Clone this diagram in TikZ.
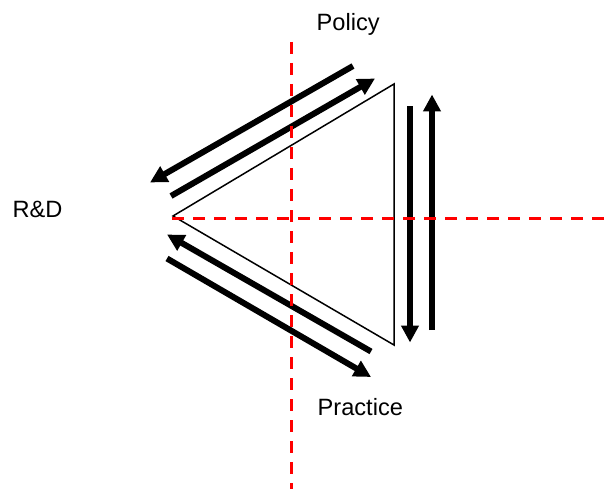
\documentclass[tikz,border=0pt]{standalone}
\usepackage{fontspec}
\setmainfont{Liberation Sans}
\usetikzlibrary{arrows.meta}

\tikzset{
  label text/.style={inner sep=0pt, anchor=base west, font=\fontsize{23.6}{28}\selectfont},
  flow/.style={line width=6pt, -{Triangle[width=17pt,length=17pt]}},
  axis/.style={red, line width=3pt, dash pattern=on 12pt off 9pt},
  frame/.style={line width=1.5pt, line join=miter}
}

\begin{document}
\begin{tikzpicture}[x=1pt, y=-1pt]
  \useasboundingbox (0,0) rectangle (610,489);

  % labels of the three corners
  \node[label text] (policy)   at (316.5,31)  {Policy};
  \node[label text] (rd)       at (12.5,217.5) {R\&D};
  \node[label text] (practice) at (317.5,415) {Practice};

  % the triangle
  \coordinate (tl) at (173,216);
  \coordinate (tt) at (394,84);
  \coordinate (tb) at (394,345);
  \draw[frame] (tl) -- (tt) -- (tb) -- cycle;

  % arrow ends
  \coordinate (a1s) at (353,66);   \coordinate (a1e) at (150,182.5);
  \coordinate (a2s) at (171,196);  \coordinate (a2e) at (375,78.5);
  \coordinate (a3s) at (371,351.5);\coordinate (a3e) at (167,234.5);
  \coordinate (a4s) at (167,258.5);\coordinate (a4e) at (371,377);
  \coordinate (a5s) at (410,106.5);\coordinate (a5e) at (410,342.5);
  \coordinate (a6s) at (432,330);  \coordinate (a6e) at (432,94.5);

  \draw[flow] (a1s) -- (a1e);
  \draw[flow] (a2s) -- (a2e);
  \draw[flow] (a3s) -- (a3e);
  \draw[flow] (a4s) -- (a4e);
  \draw[flow] (a5s) -- (a5e);
  \draw[flow] (a6s) -- (a6e);

  % dashed axes
  \coordinate (vtop) at (291,42);
  \coordinate (vbot) at (291,489);
  \coordinate (hl)   at (172,218);
  \coordinate (hr)   at (610,218);
  \draw[axis] (vtop) -- (vbot);
  \draw[axis] (hl) -- (hr);
\end{tikzpicture}
\end{document}
